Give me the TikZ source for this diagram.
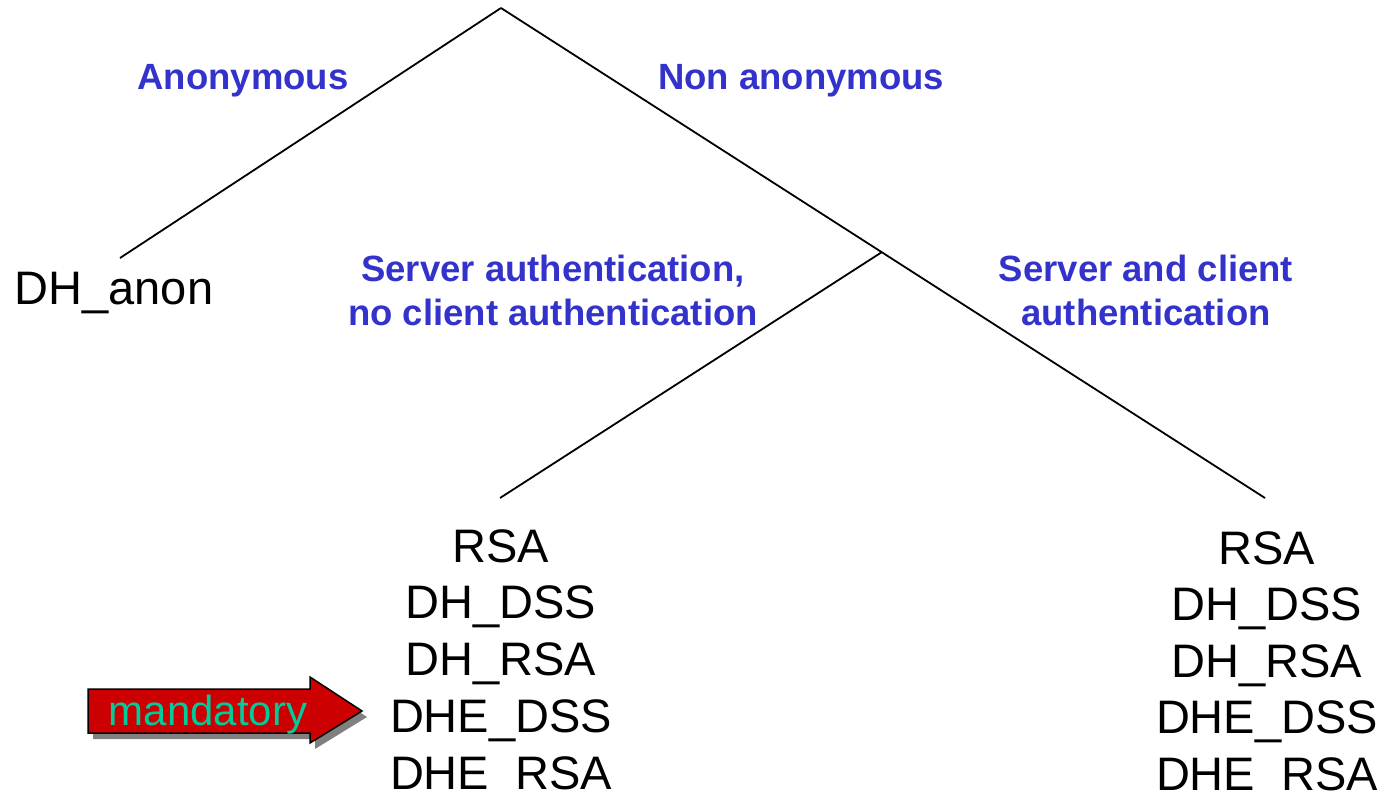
\documentclass[tikz,border=0pt]{standalone}
\usepackage{fontspec}
\setmainfont{Liberation Sans}
\definecolor{branchblue}{RGB}{51,51,204}
\definecolor{mandred}{RGB}{204,0,0}
\definecolor{mandgreen}{RGB}{0,204,153}

\begin{document}
\begin{tikzpicture}[x=1pt,y=-1pt,
    item/.style={font=\fontsize{47}{56}\selectfont,anchor=base,inner sep=0pt},
    branch/.style={font=\fontsize{36.5}{44}\selectfont\bfseries,text=branchblue,align=center,anchor=base,inner sep=0pt}]
    \useasboundingbox[fill=white] (0,0) rectangle (1396,793);
    % tree
    \coordinate (root) at (501,8);
    \coordinate (anonend) at (120,258);
    \coordinate (mid) at (882,252);
    \coordinate (serverend) at (500,498);
    \coordinate (bothend) at (1265,498);
    \draw[line width=1.8pt] (root) -- (anonend);
    \draw[line width=1.8pt] (root) -- (bothend);
    \draw[line width=1.8pt] (mid) -- (serverend);
    % branch labels
    \node[branch] (anon) at (243,89) {Anonymous};
    \node[branch] (nonanon) at (801,89) {Non anonymous};
    \node[branch] (serveronly) at (553,325) {Server authentication,\\no client authentication};
    \node[branch] (serverclient) at (1146,325) {Server and client\\authentication};
    % leaves
    \node[item] (dhanon) at (114,304) {DH\_anon};
    \foreach \t [count=\i] in {RSA,DH\_DSS,DH\_RSA,DHE\_DSS,DHE\_RSA}
      \node[item] (l\i) at (501,{562+56.75*(\i-1)}) {\t};
    \foreach \t [count=\i] in {RSA,DH\_DSS,DH\_RSA,DHE\_DSS,DHE\_RSA}
      \node[item] (r\i) at (1267,{564+56.5*(\i-1)}) {\t};
    % mandatory arrow
    \fill[gray] (93,695) -- (315,695) -- (315,683) -- (367,717) -- (315,749) -- (315,739) -- (93,739) -- cycle;
    \filldraw[fill=mandred,draw=black,line width=1.5pt] (88,689) -- (310,689) -- (310,677) -- (362,711) -- (310,743) -- (310,733) -- (88,733) -- cycle;
    \node[font=\fontsize{42}{50}\selectfont,text=mandgreen,anchor=base,inner sep=0pt] (mand) at (208,725) {mandatory};
\end{tikzpicture}
\end{document}
